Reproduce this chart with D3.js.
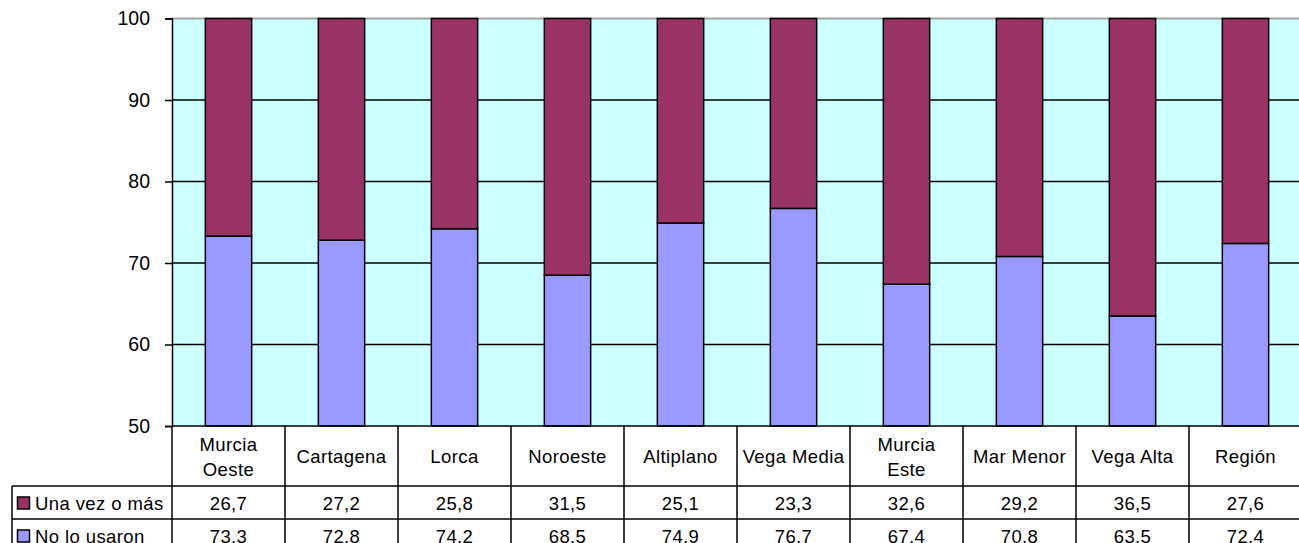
<!DOCTYPE html>
<html>
<head>
<meta charset="utf-8">
<script src="https://cdn.jsdelivr.net/npm/d3@7"></script>
<style>
html,body{margin:0;padding:0;background:#fff;overflow:hidden;}
svg{display:block;font-family:"Liberation Sans",Arial,sans-serif;}
</style>
</head>
<body>
<svg id="chart" width="1299" height="543"></svg>
<script>
const categories = [["Murcia","Oeste"],["Cartagena"],["Lorca"],["Noroeste"],["Altiplano"],["Vega Media"],["Murcia","Este"],["Mar Menor"],["Vega Alta"],["Región"]];
const unaVez = [26.7, 27.2, 25.8, 31.5, 25.1, 23.3, 32.6, 29.2, 36.5, 27.6];
const noLoUsaron = [73.3, 72.8, 74.2, 68.5, 74.9, 76.7, 67.4, 70.8, 63.5, 72.4];
const seriesNames = ["Una vez o más", "No lo usaron"];
const yTicks = [50, 60, 70, 80, 90, 100];
const fmt = v => v.toFixed(1).replace(".", ",");

(function(){
const svg = d3.select("#chart");
const pL = 172, pR = 1302, pT = 18.5, pB = 426;
const x = d3.scaleBand().domain(d3.range(categories.length)).range([pL, pR]).paddingInner(0.59).paddingOuter(0.295);
const xCol = d3.scaleBand().domain(d3.range(categories.length)).range([pL, pR]);
const y = d3.scaleLinear().domain([50, 100]).range([pB, pT]);

// plot background
svg.append("rect").attr("x", pL).attr("y", pT).attr("width", pR - pL).attr("height", pB - pT).attr("fill", "#CCFFFF");
svg.append("line").attr("x1", pL).attr("x2", pR).attr("y1", pT).attr("y2", pT).attr("stroke", "#A0A0A0").attr("stroke-width", 2);

// gridlines
svg.append("g").selectAll("line").data(yTicks.filter(t => t > 50 && t < 100)).join("line")
  .attr("x1", pL).attr("x2", pR).attr("y1", d => y(d)).attr("y2", d => y(d))
  .attr("stroke", "#000").attr("stroke-width", 1.5);

// bars
const stacked = categories.map((c, i) => ({i, no: noLoUsaron[i], una: unaVez[i]}));
const gBars = svg.append("g");
gBars.selectAll("rect.no").data(stacked).join("rect").attr("class", "no")
  .attr("x", d => x(d.i)).attr("width", x.bandwidth())
  .attr("y", d => y(d.no)).attr("height", d => y(50) - y(d.no))
  .attr("fill", "#9999FF").attr("stroke", "#000").attr("stroke-width", 1.5);
gBars.selectAll("rect.una").data(stacked).join("rect").attr("class", "una")
  .attr("x", d => x(d.i)).attr("width", x.bandwidth())
  .attr("y", d => y(Math.min(100, d.no + d.una))).attr("height", d => y(d.no) - y(Math.min(100, d.no + d.una)))
  .attr("fill", "#993366").attr("stroke", "#000").attr("stroke-width", 1.5);

// y axis
const yAxis = d3.axisLeft(y).tickValues(yTicks).tickSize(7).tickPadding(15).tickFormat(d3.format("d"));
const gy = svg.append("g").attr("transform", `translate(${pL},0)`).call(yAxis);
gy.select(".domain").attr("stroke", "#000").attr("stroke-width", 1.5);
gy.selectAll(".tick line").attr("stroke", "#000").attr("stroke-width", 1.5);
gy.selectAll(".tick text").attr("font-size", 19.5).attr("fill", "#000").attr("font-family", "Liberation Sans, Arial, sans-serif");

// data table
const hTop = 426, hBot = 486, r1 = 519, r2 = 552, legL = 12;
const tbl = svg.append("g").attr("stroke", "#000").attr("stroke-width", 1.5);
tbl.append("line").attr("x1", pL).attr("x2", pR).attr("y1", hTop).attr("y2", hTop);
[hBot, r1, r2].forEach(yy => tbl.append("line").attr("x1", legL).attr("x2", pR).attr("y1", yy).attr("y2", yy));
tbl.append("line").attr("x1", legL).attr("x2", legL).attr("y1", hBot).attr("y2", r2);
tbl.selectAll("line.col").data(d3.range(categories.length + 1)).join("line").attr("class", "col")
  .attr("x1", d => pL + d * xCol.bandwidth()).attr("x2", d => pL + d * xCol.bandwidth())
  .attr("y1", hTop).attr("y2", r2);

const fs = 18.5;
const txt = svg.append("g").attr("font-size", fs).attr("fill", "#000").attr("text-anchor", "middle").attr("letter-spacing", 0.4);
categories.forEach((c, i) => {
  const cx = xCol(i) + xCol.bandwidth() / 2;
  const mid = (hTop + hBot) / 2 + 7;
  const lh = 25;
  c.forEach((line, k) => {
    txt.append("text").attr("x", cx).attr("y", mid + (k - (c.length - 1) / 2) * lh).text(line);
  });
  txt.append("text").attr("x", cx).attr("y", (hBot + r1) / 2 + 7.5).text(fmt(unaVez[i]));
  txt.append("text").attr("x", cx).attr("y", (r1 + r2) / 2 + 7.5).text(fmt(noLoUsaron[i]));
});

// legend keys in table
const keyColors = ["#993366", "#9999FF"];
[[hBot, r1], [r1, r2]].forEach(([a, b], k) => {
  const cy = (a + b) / 2;
  svg.append("rect").attr("x", 17.5).attr("y", cy - 5.5).attr("width", 12).attr("height", 12)
    .attr("fill", keyColors[k]).attr("stroke", "#000").attr("stroke-width", 1.5);
  svg.append("text").attr("x", 35).attr("y", cy + 7.5).attr("font-size", fs).attr("letter-spacing", 0.4).attr("fill", "#000").text(seriesNames[k]);
});
})();
</script>
</body>
</html>
